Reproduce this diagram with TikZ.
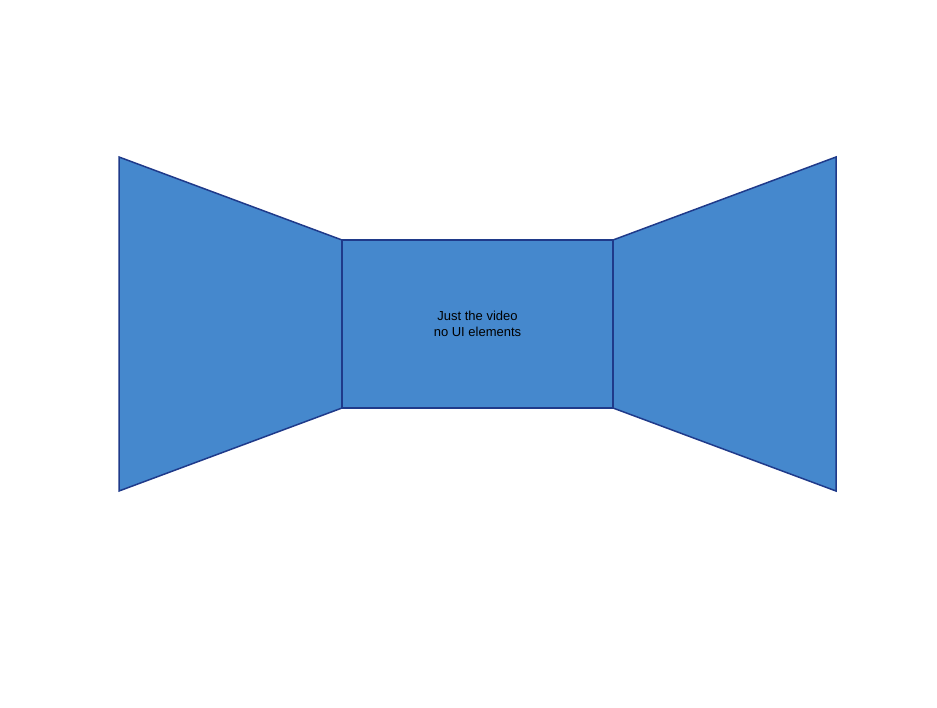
\documentclass[tikz,border=0pt]{standalone}
\usepackage{fontspec}
\setmainfont{Liberation Sans}
\definecolor{panelfill}{HTML}{4588CD}
\definecolor{panelline}{HTML}{1F3A8A}
\tikzset{panel/.style={fill=panelfill,draw=panelline,line width=1.5pt,line join=miter}}
\begin{document}
\begin{tikzpicture}[x=1pt,y=-1pt]
\useasboundingbox (0,0) rectangle (937,707);
\coordinate (lt) at (119,157);
\coordinate (lb) at (119,491);
\coordinate (ct) at (342,240);
\coordinate (cb) at (342,408);
\coordinate (dt) at (613,240);
\coordinate (db) at (613,408);
\coordinate (rt) at (836,157);
\coordinate (rb) at (836,491);
\draw[panel] (lt) -- (ct) -- (cb) -- (lb) -- cycle;
\draw[panel] (dt) -- (rt) -- (rb) -- (db) -- cycle;
\draw[panel] (ct) rectangle (db);
\node[align=center,font=\fontsize{13}{16}\selectfont] (label) at (477.5,324) {Just the video\\no UI elements};
\end{tikzpicture}
\end{document}
